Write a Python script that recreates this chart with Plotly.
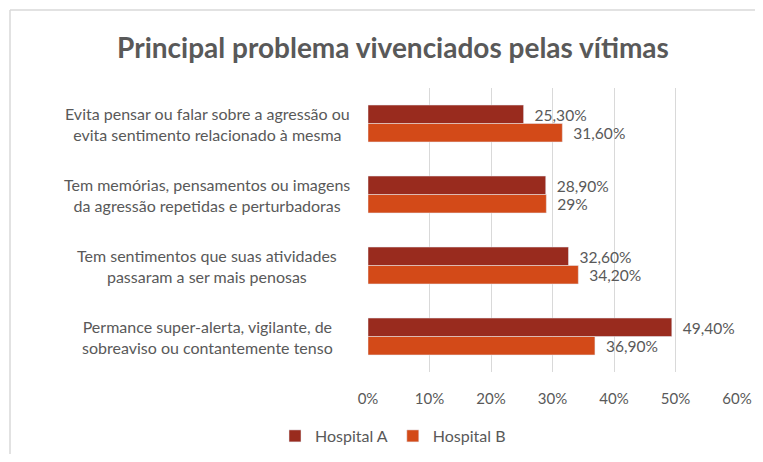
import plotly.graph_objects as go

categories = [
    "Evita pensar ou falar sobre a agressão ou<br>evita sentimento relacionado à mesma",
    "Tem memórias, pensamentos ou imagens<br>da agressão repetidas e perturbadoras",
    "Tem sentimentos que suas atividades<br>passaram a ser mais penosas",
    "Permance super-alerta, vigilante, de<br>sobreaviso ou contantemente tenso",
]
hospital_a = [25.3, 28.9, 32.6, 49.4]
hospital_b = [31.6, 29.0, 34.2, 36.9]
labels_a = ["25,30%", "28,90%", "32,60%", "49,40%"]
labels_b = ["31,60%", "29%", "34,20%", "36,90%"]
tick_vals = [0, 10, 20, 30, 40, 50, 60]
tick_text = ["0%", "10%", "20%", "30%", "40%", "50%", "60%"]

FONT = "Lato"
GRAY = "#595959"

# page offset of the plot div (browser body margin); keep page within window
OFF = 8
W, H = 763 - 2 * OFF, 462 - 2 * OFF
# target screen coordinates of the plot area
PX0, PX1, PY0, PY1 = 368, 737, 88, 372
L = PX0 - OFF
T = PY0 - OFF
R = W - (PX1 - OFF)
B = H - (PY1 - OFF)
pw, ph = PX1 - PX0, PY1 - PY0


def px_x(x):
    return (x - PX0) / pw


def px_y(y):
    return (PY1 - y) / ph


fig = go.Figure()
fig.add_trace(go.Bar(
    name="Hospital A", y=categories, x=hospital_a, orientation="h",
    marker=dict(color="#992B1E"),
    text=["\u00a0\u00a0" + t for t in labels_a], textposition="outside",
    textfont=dict(family=FONT, size=16, color=GRAY), cliponaxis=False,
))
fig.add_trace(go.Bar(
    name="Hospital B", y=categories, x=hospital_b, orientation="h",
    marker=dict(color="#D34A18"),
    text=["\u00a0\u00a0" + t for t in labels_b], textposition="outside",
    textfont=dict(family=FONT, size=16, color=GRAY), cliponaxis=False,
))

annotations = []
for c in categories:
    annotations.append(dict(
        x=px_x(207), xref="paper", y=c, yref="y", text=c,
        showarrow=False, xanchor="center", yanchor="middle", align="center",
        font=dict(family=FONT, size=16, color=GRAY),
    ))

frame = dict(color="#D9D9D9", width=1.5)
fig.update_layout(
    width=W, height=H,
    margin=dict(l=L, r=R, t=T, b=B, autoexpand=False),
    paper_bgcolor="white", plot_bgcolor="white",
    barmode="group", bargap=0.48, bargroupgap=0,
    title=dict(text="Principal problema vivenciados pelas vítimas",
               x=(393 - OFF) / W, xanchor="center",
               y=1 - (48 - OFF) / H, yanchor="middle",
               font=dict(family=FONT, size=28, color=GRAY, weight="bold")),
    xaxis=dict(range=[0, 60], tickvals=tick_vals, ticktext=tick_text,
               showgrid=True, gridcolor="#D9D9D9", gridwidth=1,
               zeroline=False, showline=False, ticks="",
               tickfont=dict(family=FONT, size=15, color=GRAY),
               ticklabelstandoff=16, fixedrange=True, automargin=False),
    yaxis=dict(autorange="reversed", showticklabels=False, showgrid=False,
               zeroline=False, showline=False, ticks="", automargin=False),
    showlegend=True,
    legend=dict(orientation="h", x=px_x(393), xanchor="center",
                y=px_y(436), yanchor="middle",
                font=dict(family=FONT, size=16, color=GRAY),
                itemwidth=30, traceorder="normal"),
    annotations=annotations,
    shapes=[
        dict(type="line", xref="paper", yref="paper",
             x0=px_x(10), x1=px_x(770), y0=px_y(10), y1=px_y(10),
             line=frame, layer="below"),
        dict(type="line", xref="paper", yref="paper",
             x0=px_x(10), x1=px_x(10), y0=px_y(10), y1=px_y(470),
             line=frame, layer="below"),
    ],
)

fig.write_html("out.html")
